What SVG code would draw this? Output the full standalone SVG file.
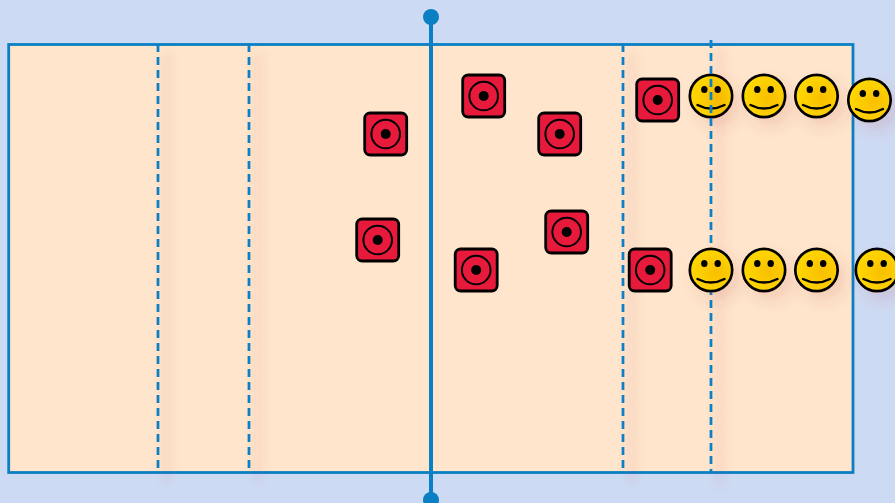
<svg xmlns="http://www.w3.org/2000/svg" width="895" height="503" viewBox="0 0 895 503">
<style>
.court{fill:#fee5cb;stroke:#0a7fc4;stroke-width:2.8}
.net{fill:none;stroke:#0a7fc4;stroke-width:4}
.netdot{fill:#0a7fc4}
.dash{fill:none;stroke:#0a7fc4;stroke-width:2.8;stroke-dasharray:8 5}
.tile{fill:#e71a3c;stroke:#000;stroke-width:2.8}
.ring{fill:none;stroke:#000;stroke-width:2}
.pip{fill:#000}
.face{fill:url(#gold);stroke:#000;stroke-width:2.7}
.eye{fill:#000}
.smile{fill:none;stroke:#000;stroke-width:2.4;stroke-linecap:round}
.sh{filter:url(#shadow)}
.ls{filter:url(#lineshadow)}
</style>
<defs>
<radialGradient id="gold" cx="0.62" cy="0.55" r="0.6">
<stop offset="0" stop-color="#f9bf05"/>
<stop offset="1" stop-color="#ffd800"/>
</radialGradient>
<filter id="shadow" x="-60%" y="-40%" width="220%" height="200%">
<feDropShadow dx="7" dy="8" stdDeviation="7" flood-color="#b5404a" flood-opacity="0.14"/>
</filter>
<filter id="lineshadow" filterUnits="userSpaceOnUse" x="0" y="0" width="895" height="503">
<feDropShadow dx="9" dy="12" stdDeviation="5.5" flood-color="#b5404a" flood-opacity="0.32"/>
</filter>
<g id="cone">
<rect class="tile" x="-21" y="-21" width="42" height="42" rx="5.5"/>
<circle class="ring" r="14.3"/>
<circle class="pip" r="5"/>
</g>
<g id="smiley">
<circle class="face" r="21.2"/>
<ellipse class="eye" cx="-6.7" cy="-6.5" rx="3.2" ry="3.6"/>
<ellipse class="eye" cx="6.7" cy="-6.5" rx="3.2" ry="3.6"/>
<path class="smile" d="M-13.5 9Q0 16 13.5 9"/>
</g>
</defs>
<rect width="895" height="503" fill="#cddaf3"/>
<rect id="court" class="court" x="8.7" y="44.5" width="844.3" height="428"/>
<g id="connectors">
<path class="dash ls" d="M158 44V473"/>
<path class="dash ls" d="M249 44V473"/>
<path class="dash ls" d="M623 44V473"/>
<path class="net" d="M431 17V499"/>
<circle class="netdot" cx="431" cy="17" r="8"/>
<circle class="netdot" cx="431" cy="500" r="8"/>
</g>
<g id="smiley-1" class="sh"><use href="#smiley" x="711" y="96"/></g>
<path id="dash-4" class="dash ls" d="M711 40V473"/>
<g id="smiley-5" class="sh"><use href="#smiley" x="711" y="270"/></g>
<g id="cone-1"><use href="#cone" x="657.7" y="100"/></g>
<g id="cone-2"><use href="#cone" x="483.7" y="96"/></g>
<g id="cone-3"><use href="#cone" x="385.7" y="134"/></g>
<g id="cone-4"><use href="#cone" x="559.7" y="134"/></g>
<g id="cone-5"><use href="#cone" x="377.7" y="240"/></g>
<g id="cone-6"><use href="#cone" x="566.7" y="232"/></g>
<g id="cone-7"><use href="#cone" x="476.2" y="270"/></g>
<g id="cone-8"><use href="#cone" x="650.2" y="270"/></g>
<g id="smiley-2" class="sh"><use href="#smiley" x="764" y="96"/></g>
<g id="smiley-3" class="sh"><use href="#smiley" x="816.5" y="96"/></g>
<g id="smiley-4" class="sh"><use href="#smiley" x="869.5" y="100"/></g>
<g id="smiley-6" class="sh"><use href="#smiley" x="764" y="270"/></g>
<g id="smiley-7" class="sh"><use href="#smiley" x="816.5" y="270"/></g>
<g id="smiley-8" class="sh"><use href="#smiley" x="877" y="270"/></g>
</svg>
